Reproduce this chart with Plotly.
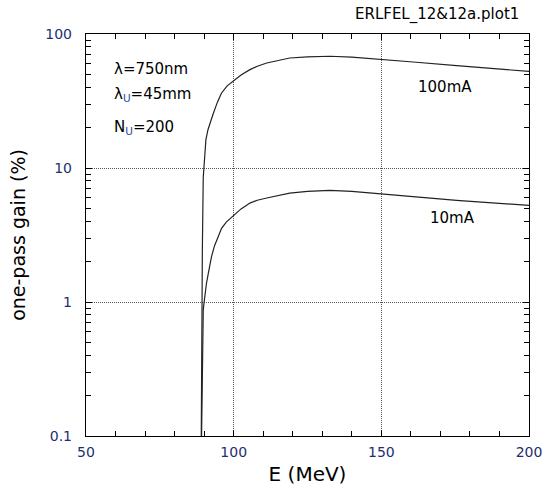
import plotly.graph_objects as go

# ---- data ----
E_100mA = [88.95, 89.2, 89.4, 89.7, 89.95, 90.3, 90.6, 91.3, 92.0, 93.1, 94.5, 95.9,
           97.8, 100.0, 102.5, 105.5, 108.0, 111.2, 115.0, 119.0, 125.0, 132.6,
           140.0, 149.5, 160.8, 175.5, 200.0]
gain_100mA = [0.05, 1.2, 2.5, 8.5, 10.0, 13.2, 16.3, 19.3, 21.7, 25.5, 31.0, 36.3,
              41.0, 45.0, 49.5, 54.2, 57.5, 60.8, 63.5, 66.2, 67.6, 68.2,
              67.2, 64.3, 61.8, 58.0, 52.6]

E_10mA = [88.95, 89.2, 89.4, 89.7, 90.0, 90.3, 90.8, 91.4, 92.5, 93.5, 94.7, 95.9,
          97.5, 100.0, 102.5, 105.5, 108.0, 111.2, 115.0, 119.0, 125.0, 132.6,
          140.0, 149.5, 160.8, 175.5, 200.0]
gain_10mA = [0.05, 0.12, 0.28, 0.87, 1.0, 1.15, 1.38, 1.63, 2.18, 2.62, 3.1, 3.55,
             3.95, 4.45, 4.95, 5.47, 5.75, 5.97, 6.25, 6.5, 6.7, 6.8,
             6.7, 6.43, 6.14, 5.73, 5.26]

x_ticks = [50, 100, 150, 200]
x_minor = [60, 70, 80, 90, 110, 120, 130, 140, 160, 170, 180, 190]
y_ticks = [0.1, 1, 10, 100]
y_ticktext = ["0.1", "1", "10", "100"]
y_minor = [m * d for d in (0.1, 1, 10) for m in range(2, 10)]

FONT = "DejaVu Sans"
TICKCOL = "#1d2f6f"
LINECOL = "#222222"

fig = go.Figure()
fig.add_trace(go.Scatter(x=E_100mA, y=gain_100mA, mode="lines",
                         line=dict(color=LINECOL, width=1.2), showlegend=False,
                         hoverinfo="skip"))
fig.add_trace(go.Scatter(x=E_10mA, y=gain_10mA, mode="lines",
                         line=dict(color=LINECOL, width=1.2), showlegend=False,
                         hoverinfo="skip"))

axis_common = dict(
    showline=True, linecolor="black", linewidth=1.2, mirror="ticks",
    ticks="inside", ticklen=6, tickwidth=1, tickcolor="black",
    showgrid=True, gridcolor="#555555", griddash="1px,1px", gridwidth=1,
    zeroline=False,
    tickfont=dict(family=FONT, size=14, color=TICKCOL),
)

fig.update_xaxes(
    **axis_common,
    range=[50, 200],
    tickmode="array", tickvals=x_ticks,
    minor=dict(tickmode="array", tickvals=x_minor, ticks="inside", ticklen=5,
               tickcolor="black", showgrid=False),
    title=dict(text="E (MeV)", font=dict(family=FONT, size=20, color="black"),
               standoff=8),
    ticklabelstandoff=3,
)
fig.update_yaxes(
    **axis_common,
    type="log",
    range=[-1, 2],
    tickmode="array", tickvals=y_ticks, ticktext=y_ticktext,
    minor=dict(tickmode="array", tickvals=y_minor, ticks="inside", ticklen=5,
               tickcolor="black", showgrid=False),
    title=dict(text="one-pass gain (%)", font=dict(family=FONT, size=19, color="black"),
               standoff=14),
    ticklabelstandoff=10,
)

W, H = 543, 497
L, R, T, B = 86, 14, 34, 61
pw, ph = W - L - R, H - T - B

ann_font = dict(family=FONT, size=15, color="black")
labels = [
    (112, 69, "λ=750nm"),
    (112, 94, "λ<sub><span style='color:#2a4aa8'>U</span></sub>=45mm"),
    (112, 127, "N<sub><span style='color:#2a4aa8'>U</span></sub>=200"),
    (416, 87, "100mA"),
    (428, 218, "10mA"),
]
for px, py, txt in labels:
    fig.add_annotation(
        x=(px - L) / pw, y=1 - (py - T) / ph,
        xref="paper", yref="paper", xanchor="left", yanchor="middle",
        text=txt, showarrow=False, font=ann_font,
    )
fig.add_annotation(
    x=1.0 + (521 - 529) / pw, y=1 + (T - 14) / ph, xref="paper", yref="paper",
    xanchor="right", yanchor="middle", text="ERLFEL_12&12a.plot1",
    showarrow=False, font=dict(family=FONT, size=15, color="black"),
)

fig.update_layout(
    width=W, height=H,
    margin=dict(l=L, r=R, t=T, b=B, autoexpand=False),
    paper_bgcolor="white", plot_bgcolor="white",
    font=dict(family=FONT),
    hovermode=False,
)

fig.write_html("out.html",
               config={"displayModeBar": False, "staticPlot": True},
               post_script="document.body.style.margin='0';document.body.style.overflow='hidden';")
